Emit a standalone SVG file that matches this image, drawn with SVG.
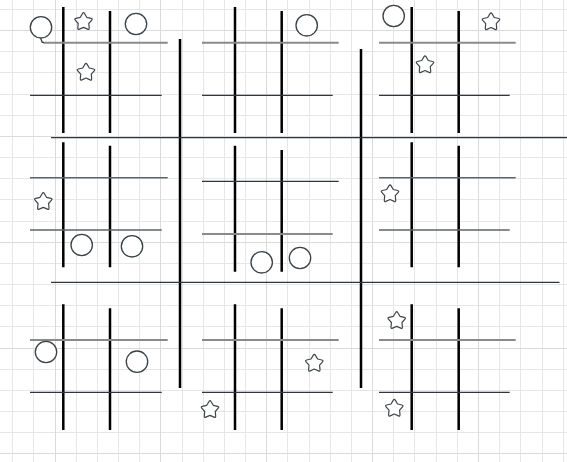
<svg xmlns="http://www.w3.org/2000/svg" xmlns:xlink="http://www.w3.org/1999/xlink" width="567" height="462" viewBox="0 0 567 462">
<style>
.grid{stroke:#e6e6e6;stroke-width:1;fill:none}
.gridm{stroke:#dadada;stroke-width:1;fill:none}
.bv{stroke:#000;stroke-width:2.5;fill:none}
.bh{stroke:#30363c;stroke-width:1.3;fill:none}
.v{stroke:#000;stroke-width:2.5;fill:none}
.hg{stroke:#8a8a8a;stroke-width:2;fill:none}
.hd{stroke:#30363c;stroke-width:1.3;fill:none}
.hm{stroke:#5f6468;stroke-width:1.5;fill:none}
.o{stroke:#3c4146;stroke-width:1.3;fill:#fff}
.x{stroke:#40454a;stroke-width:1.2;fill:#fff;stroke-linejoin:round}
</style>
<defs>
<path id="star" d="M-0.98,-8.35 Q0,-10 0.98,-8.35 L3.26,-4.5 L7.63,-3.51 Q9.5,-3.09 8.24,-1.64 L5.28,1.72 L5.69,6.17 Q5.87,8.08 4.11,7.33 L0,5.55 L-4.11,7.33 Q-5.87,8.08 -5.69,6.17 L-5.28,1.72 L-8.24,-1.64 Q-9.5,-3.09 -7.63,-3.51 L-3.26,-4.5 Z"/>
</defs>
<rect width="567" height="462" fill="#fff"/>
<g id="grid">
<path class="grid" d="M12.5,0V462M33.5,0V462M76.5,0V462M97.5,0V462M118.5,0V462M139.5,0V462M182.5,0V462M203.5,0V462M224.5,0V462M245.5,0V462M287.5,0V462M309.5,0V462M330.5,0V462M351.5,0V462M393.5,0V462M414.5,0V462M436.5,0V462M457.5,0V462M499.5,0V462M520.5,0V462M542.5,0V462M563.5,0V462"/>
<path class="grid" d="M0,9.5H567M0,51.5H567M0,72.5H567M0,94.5H567M0,115.5H567M0,157.5H567M0,178.5H567M0,199.5H567M0,221.5H567M0,263.5H567M0,284.5H567M0,305.5H567M0,326.5H567M0,369.5H567M0,390.5H567M0,411.5H567M0,432.5H567"/>
<path class="gridm" d="M55.5,0V462M160.5,0V462M266.5,0V462M372.5,0V462M478.5,0V462M0,30.5H567M0,136.5H567M0,242.5H567M0,348.5H567M0,453.5H567"/>
</g>
<g id="big-board">
<path class="bv" d="M180,39V388M361,49V388"/>
<path class="bh" d="M51,137.7H567M51,282.3H559.5"/>
</g>
<g id="board-1">
<path class="v" d="M63.3,7V133M110,11V133"/>
<path class="hg" d="M43.5,42.7H167.7"/>
<path class="hd" d="M30,95.3H161.7"/>
<path class="hd" d="M40.6,38.2L42.2,42.2L44,42.7"/>
<circle class="o" cx="41" cy="27.3" r="10.7"/>
<use href="#star" class="x" x="83.5" y="21.8"/>
<circle class="o" cx="136" cy="24" r="10.7"/>
<use href="#star" class="x" x="86" y="72.5"/>
</g>
<g id="board-2">
<path class="v" d="M235,7V133M281.7,11V133"/>
<path class="hg" d="M202,42.7H338.7"/>
<path class="hd" d="M202,95.3H332.7"/>
<circle class="o" cx="306.7" cy="25.3" r="10.7"/>
</g>
<g id="board-3">
<path class="v" d="M411.7,7V133M458.7,11V133"/>
<path class="hg" d="M379,42.7H515.7"/>
<path class="hd" d="M379,95.3H509.7"/>
<circle class="o" cx="393.7" cy="16" r="10.7"/>
<use href="#star" class="x" x="491" y="22"/>
<use href="#star" class="x" x="425" y="65"/>
</g>
<g id="board-4">
<path class="v" d="M63.3,142.3V267.3M110,145.7V267.3"/>
<path class="hm" d="M30,177.7H167.7M30,230H161.7"/>
<use href="#star" class="x" x="43.3" y="201.8"/>
<circle class="o" cx="81.7" cy="245" r="10.7"/>
<circle class="o" cx="132" cy="246.3" r="10.7"/>
</g>
<g id="board-5">
<path class="v" d="M235,145.7V271.7M281.7,150V271.7"/>
<path class="hd" d="M202,181.3H338.7"/>
<path class="hg" d="M202,234H332.7"/>
<circle class="o" cx="261.7" cy="262.3" r="10.7"/>
<circle class="o" cx="300" cy="258" r="10.7"/>
</g>
<g id="board-6">
<path class="v" d="M411.7,142.3V267.3M458.7,145.7V267.3"/>
<path class="hm" d="M379,177.7H515.7M379,230H509.7"/>
<use href="#star" class="x" x="390" y="194"/>
</g>
<g id="board-7">
<path class="v" d="M63.3,304.3V430M110,308.3V430"/>
<path class="hg" d="M30,340H167.7"/>
<path class="hd" d="M30,392.3H161.7"/>
<circle class="o" cx="46" cy="352" r="10.7"/>
<circle class="o" cx="137" cy="361.7" r="10.7"/>
</g>
<g id="board-8">
<path class="v" d="M235,304.3V430M281.7,308.3V430"/>
<path class="hg" d="M202,340H338.7"/>
<path class="hd" d="M202,392.3H332.7"/>
<use href="#star" class="x" x="314.3" y="363.5"/>
<use href="#star" class="x" x="210" y="409.8"/>
</g>
<g id="board-9">
<path class="v" d="M411.7,304.3V430M458.7,308.3V430"/>
<path class="hg" d="M379,340H515.7"/>
<path class="hd" d="M379,392.3H509.7"/>
<use href="#star" class="x" x="396.7" y="320.8"/>
<use href="#star" class="x" x="394.3" y="408.5"/>
</g>
</svg>
